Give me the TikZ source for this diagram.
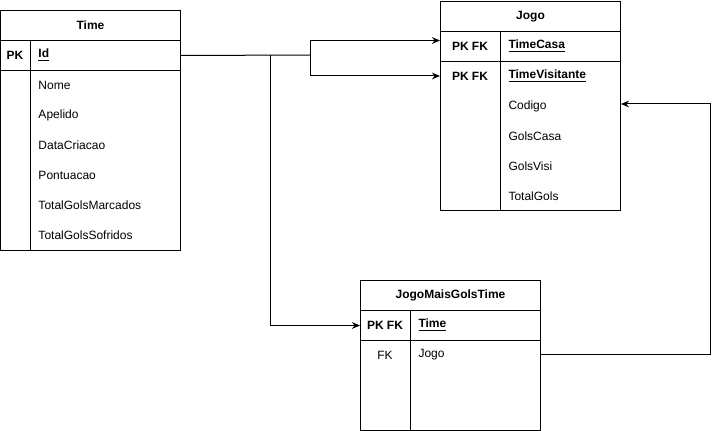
\documentclass[tikz,border=0pt]{standalone}
\usepackage{fontspec}
\setmainfont{Liberation Sans}
\usetikzlibrary{calc,arrows.meta}
\newcommand{\divider}[2]{%
  \draw ($(#1.north west)+(#2,0)$) -- ($(#1.south west)+(#2,0)$)}
\newcommand{\keyline}[2]{%
  \draw[->] (#1) |- (#2)}

\begin{document}
\begin{tikzpicture}[x=0.75pt, y=-0.75pt, line width=0.75pt,
    >={Stealth[length=6pt,width=5pt]},
    every node/.style={font=\fontsize{9}{11}\selectfont},
    tbl/.style={draw, line width=0.75pt, anchor=north west, inner sep=0pt,
      minimum width=135pt},
    hdr/.style={tbl, minimum height=22.5pt,
      font=\fontsize{9}{11}\selectfont\bfseries},
    keyrow/.style={tbl, minimum height=22.5pt},
    key/.style={inner sep=0pt, font=\fontsize{9}{11}\selectfont\bfseries},
    fkey/.style={inner sep=0pt},
    field/.style={anchor=west, inner sep=0pt},
    pfield/.style={field, font=\fontsize{9}{11}\selectfont\bfseries}]
  \useasboundingbox (0,0) rectangle (719,431);

  \node[hdr] (time) at (0,10) {Time};
  \node[keyrow] (time-pk) at (0,40) {};
  \node[tbl, minimum height=135pt] (time-body) at (0,70) {};
  \divider{time-pk}{30};
  \divider{time-body}{30};
  \node[key] (time-k1) at (15,55) {PK};
  \node[pfield] (time-id) at (38,55) {\underline{Id}};
  \node[field] (time-nome) at (38,85) {Nome};
  \node[field] (time-apelido) at (38,115) {Apelido};
  \node[field] (time-data) at (38,145) {DataCriacao};
  \node[field] (time-pont) at (38,175) {Pontuacao};
  \node[field] (time-marc) at (38,205) {TotalGolsMarcados};
  \node[field] (time-sofr) at (38,235) {TotalGolsSofridos};

  \node[hdr] (jogo) at (440,1) {Jogo};
  \node[keyrow] (jogo-pk) at (440,31) {};
  \node[tbl, minimum height=111.75pt] (jogo-body) at (440,61) {};
  \divider{jogo-pk}{60};
  \divider{jogo-body}{60};
  \node[key] (jogo-k1) at (470,46) {PK FK};
  \node[key] (jogo-k2) at (470,76) {PK FK};
  \node[pfield] (jogo-casa) at (508,46) {\underline{TimeCasa}};
  \node[pfield] (jogo-visit) at (508,76) {\underline{TimeVisitante}};
  \node[field] (jogo-codigo) at (508,106) {Codigo};
  \node[field] (jogo-golscasa) at (508,136) {GolsCasa};
  \node[field] (jogo-golsvisi) at (508,166) {GolsVisi};
  \node[field] (jogo-total) at (508,196) {TotalGols};

  \node[hdr] (jmgt) at (360,280) {JogoMaisGolsTime};
  \node[keyrow] (jmgt-pk) at (360,310) {};
  \node[tbl, minimum height=67.5pt] (jmgt-body) at (360,340) {};
  \divider{jmgt-pk}{50};
  \divider{jmgt-body}{50};
  \node[key] (jmgt-k1) at (385,325) {PK FK};
  \node[fkey] (jmgt-k2) at (385,355) {FK};
  \node[pfield] (jmgt-time) at (418,325) {\underline{Time}};
  \node[field] (jmgt-jogo) at (418,355) {Jogo};

  \coordinate (split) at (310,55);
  \coordinate (drop) at (270,55);
  \coordinate (back) at (710,104);

  \draw (time-pk.east) -- (split);
  \keyline{split}{[yshift=4.5pt]jogo-pk.west};
  \keyline{split}{jogo-body.west |- jogo-visit};
  \keyline{drop}{jmgt-pk.west};
  \draw[->] (jmgt-body.east |- jmgt-jogo) -| (back) -- (jogo-body.east |- back);
\end{tikzpicture}
\end{document}
